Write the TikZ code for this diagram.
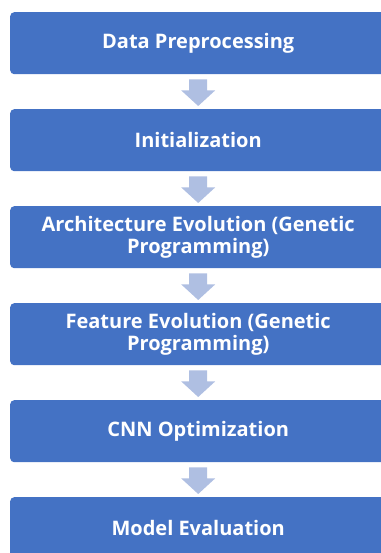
\documentclass[tikz,border=0pt]{standalone}
\usepackage{fontspec}
\setmainfont{Open Sans}
\usetikzlibrary{calc}
\begin{document}
\begin{tikzpicture}[x=1pt,y=-1pt,
  stepbox/.style={fill=boxblue, draw=none, rounded corners=4pt, minimum width=376pt, minimum height=62pt, inner sep=0pt,
    text=white, font=\bfseries\fontsize{20}{22}\selectfont, align=center, anchor=north west},
  flowarrow/.style={fill=arrowblue, draw=none}]
\definecolor{boxblue}{HTML}{4472C4}
\definecolor{arrowblue}{HTML}{AFBFE2}
\useasboundingbox (0,0) rectangle (380,553);
\node[stepbox] (b1) at (10,12) {Data Preprocessing};
\node[stepbox] (b2) at (10,109) {Initialization};
\node[stepbox] (b3) at (10,206) {Architecture Evolution (Genetic\\Programming)};
\node[stepbox] (b4) at (10,303) {Feature Evolution (Genetic\\Programming)};
\node[stepbox] (b5) at (10,400) {CNN Optimization};
\node[stepbox] (b6) at (10,497) {Model Evaluation};
\foreach \a/\b in {b1/b2,b2/b3,b3/b4,b4/b5,b5/b6}{
  \coordinate (s) at ($(\a.south)+(0,5)$);
  \coordinate (t) at ($(\b.north)+(0,-3)$);
  \fill[flowarrow] ($(s)+(-9,0)$) -- ($(s)+(9,0)$) -- ($(s)+(9,11)$) -- ($(s)+(17,11)$)
     -- (t) -- ($(s)+(-17,11)$) -- ($(s)+(-9,11)$) -- cycle;
}
\end{tikzpicture}
\end{document}
